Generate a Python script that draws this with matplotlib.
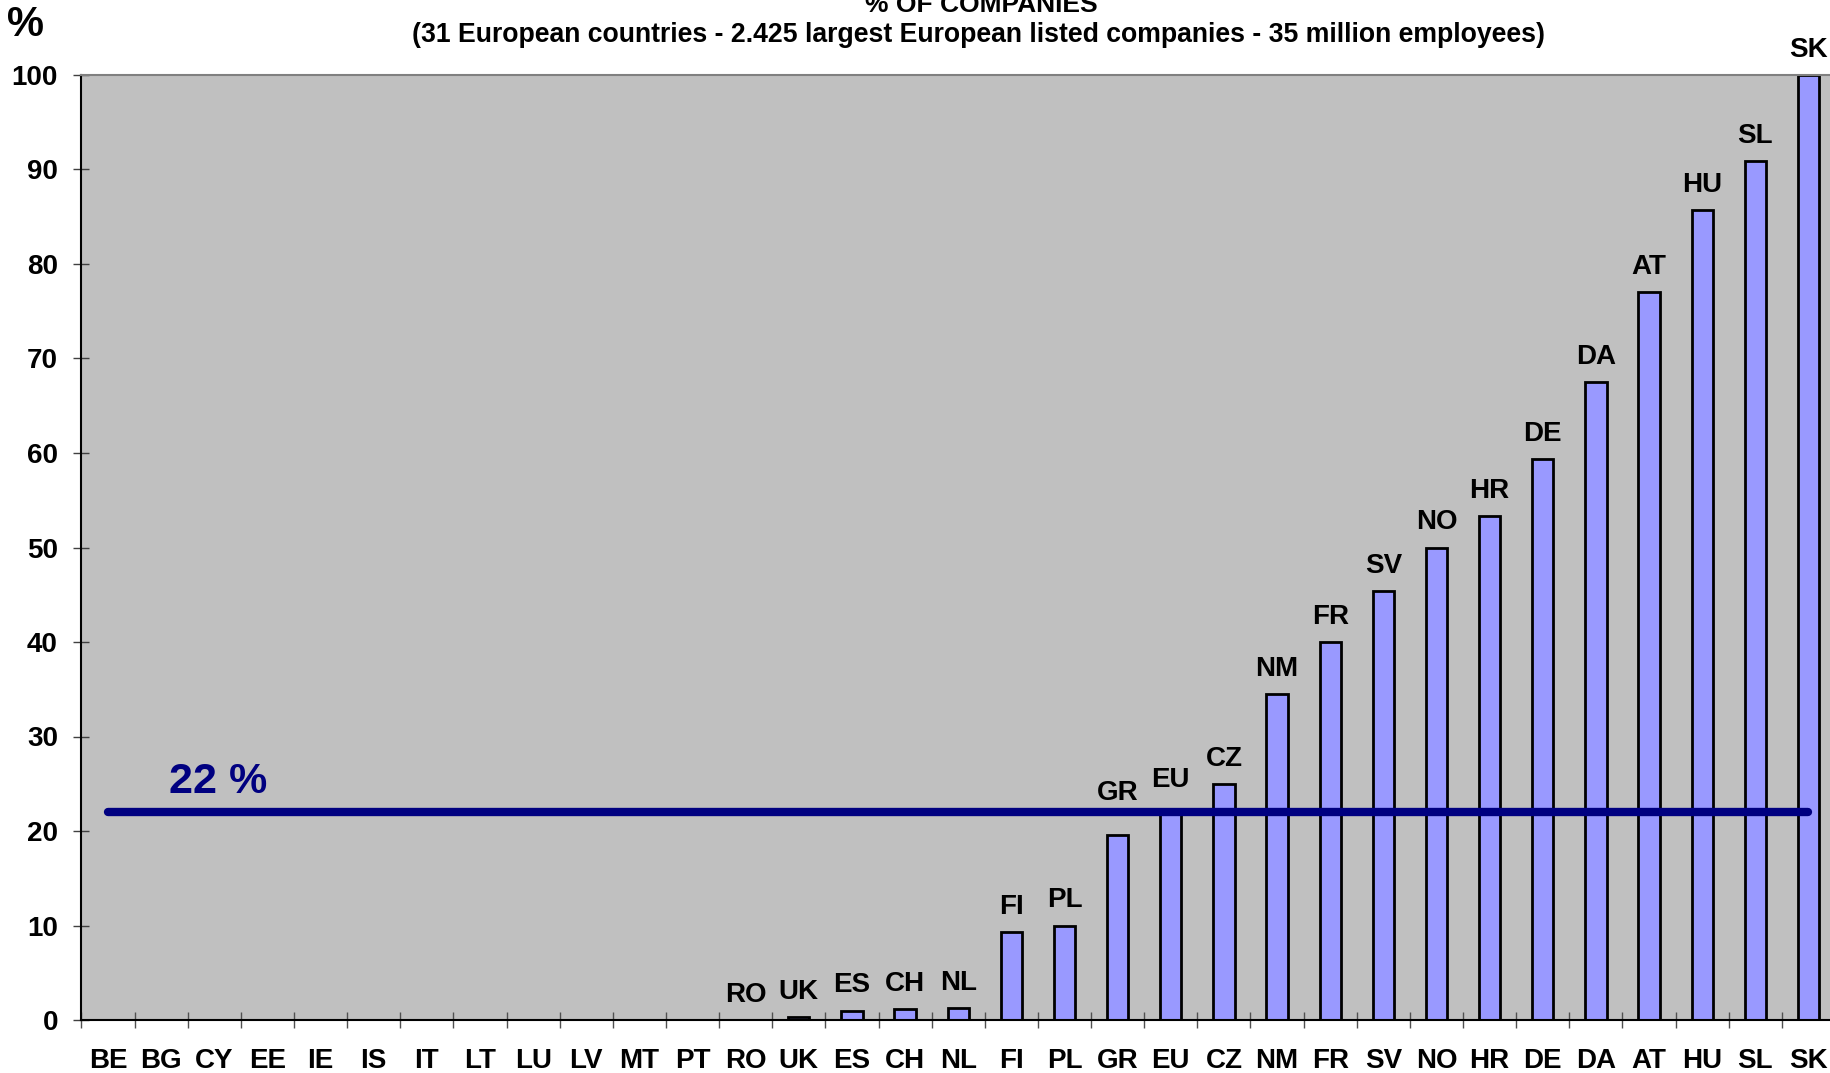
import numpy as np
import matplotlib
matplotlib.use("Agg")
import matplotlib.pyplot as plt

plt.rcParams["font.family"] = ["Liberation Sans", "DejaVu Sans"]
plt.rcParams["font.weight"] = "bold"

paises = ["BE", "BG", "CY", "EE", "IE", "IS", "IT", "LT", "LU", "LV", "MT", "PT",
          "RO", "UK", "ES", "CH", "NL", "FI", "PL", "GR", "EU", "CZ", "NM", "FR",
          "SV", "NO", "HR", "DE", "DA", "AT", "HU", "SL", "SK"]
# sem dado para os primeiros 12 paises
pct = [np.nan] * 12 + [0.0, 0.3, 1.0, 1.2, 1.3, 9.3, 10.0, 19.6, 22.0, 25.0, 34.5, 40.0,
                       45.4, 50.0, 53.3, 59.4, 67.5, 77.0, 85.7, 90.9, 100.0]
media_eu = 22
yticks = [0, 10, 20, 30, 40, 50, 60, 70, 80, 90, 100]

titulo = "% OF COMPANIES"
subtitulo = ("(31 European countries - 2.425 largest European listed companies"
             " - 35 million employees)")

# rotulos levantados para nao encostar na linha da media
ajuste_rotulo = {"GR": 12, "EU": 5}

W, H = 1831, 1073
fig = plt.figure(figsize=(W / 100, H / 100), dpi=100)
ax = fig.add_axes([81.5 / W, 53 / H, (1835 - 81.5) / W, 945 / H])
ax.set_facecolor("#C0C0C0")

x = np.arange(len(paises))
v = np.array(pct)
ax.bar(x, np.nan_to_num(v), width=0.4, color="#9999FF", edgecolor="black",
       linewidth=2, zorder=2)
ax.plot(x, np.full(len(x), media_eu), color="#000080", lw=6,
        solid_capstyle="round", zorder=3)
ax.text(1.15, media_eu + 2, f"{media_eu} %", color="#000080", fontsize=31,
        fontweight="bold", ha="left", va="baseline", zorder=4)

for xi, val, nome in zip(x, v, paises):
    if np.isnan(val):
        continue
    ax.annotate(nome, (xi, val), xytext=(0, 13 + ajuste_rotulo.get(nome, 0)),
                textcoords="offset points", ha="center", va="baseline",
                fontsize=20, fontweight="bold", annotation_clip=False, zorder=5)

ax.set_xlim(-0.5, len(paises) - 0.5)
ax.set_ylim(0, 100)
ax.set_yticks(yticks)
ax.set_xticks(x)
ax.set_xticklabels(paises)
ax.set_xticks(np.arange(len(paises) + 1) - 0.5, minor=True)
ax.tick_params(axis="x", which="major", length=0, pad=20, labelsize=20)
ax.tick_params(axis="x", which="minor", direction="inout", length=12,
               width=1, color="#505050")
ax.tick_params(axis="y", direction="inout", length=12, width=1, color="#404040",
               pad=11, labelsize=20)

for s in ["left", "bottom"]:
    ax.spines[s].set_color("black")
    ax.spines[s].set_linewidth(1.5)
ax.spines["top"].set_color("#808080")
ax.spines["top"].set_linewidth(1.5)
ax.spines["right"].set_visible(False)

fig.text(981 / W, 1 - 12 / H, titulo, ha="center", va="baseline",
         fontsize=19, fontweight="bold")
fig.text(979 / W, 1 - 35 / H, subtitulo, ha="center", va="center",
         fontsize=19.2, fontweight="bold")
fig.text(26 / W, 1 - 25 / H, "%", ha="center", va="center",
         fontsize=30, fontweight="bold")

fig.savefig("out.png", dpi=100)
